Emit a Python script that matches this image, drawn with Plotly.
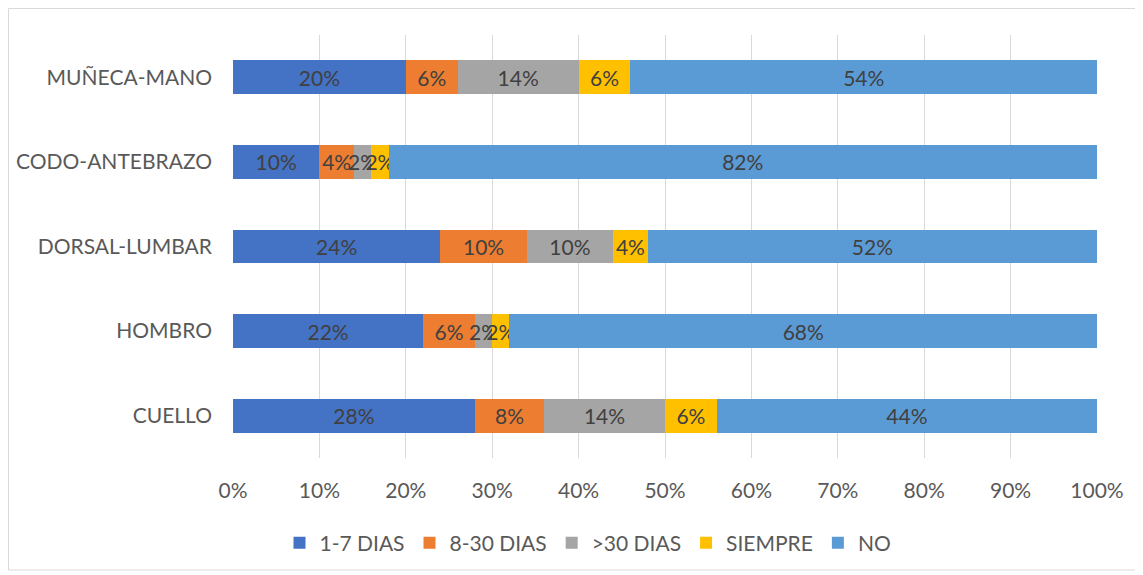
import plotly.graph_objects as go

# Data
categories = ["CUELLO", "HOMBRO", "DORSAL-LUMBAR", "CODO-ANTEBRAZO", "MUÑECA-MANO"]
series_names = ["1-7 DIAS", "8-30 DIAS", ">30 DIAS", "SIEMPRE", "NO"]
dias_1_7 = [28, 22, 24, 10, 20]
dias_8_30 = [8, 6, 10, 4, 6]
dias_30_mas = [14, 2, 10, 2, 14]
siempre = [6, 2, 4, 2, 6]
no = [44, 68, 52, 82, 54]
x_ticks = [0, 10, 20, 30, 40, 50, 60, 70, 80, 90, 100]

COLORS = ["#4472C4", "#ED7D31", "#A5A5A5", "#FFC000", "#5B9BD5"]
FONT = "Lato, 'Open Sans', sans-serif"
# page body adds an 8px offset, so the figure is sized to fit the window
W, H = 1135, 567
L, R, T, B = 225, 46, 27, 117
FS = 21

fig = go.Figure()
for name, vals, color in zip(series_names, [dias_1_7, dias_8_30, dias_30_mas, siempre, no], COLORS):
    fig.add_trace(go.Bar(
        y=categories,
        x=vals,
        name=name,
        orientation="h",
        marker={"color": color, "line": {"width": 0}},
        text=[f"{v}%" for v in vals],
        textposition="inside",
        insidetextanchor="middle",
        textangle=0,
        constraintext="none",
        cliponaxis=False,
        textfont={"color": "#404040", "size": FS, "family": FONT},
    ))

pw, ph = W - L - R, H - T - B
fig.add_shape(
    type="rect", xref="paper", yref="paper",
    x0=(0.5 - L) / pw, x1=(1129 - L) / pw,
    y0=(H - B - 562) / ph, y1=(H - B - 0.5) / ph,
    line={"color": "#D9D9D9", "width": 1},
)

fig.update_layout(
    width=W, height=H,
    barmode="stack",
    bargap=0.6,
    paper_bgcolor="white",
    plot_bgcolor="white",
    margin={"l": L, "r": R, "t": T, "b": B, "autoexpand": False},
    font={"family": FONT, "color": "#595959", "size": FS},
    xaxis={
        "range": [0, 100],
        "tickvals": x_ticks,
        "ticktext": [f"{t}%" for t in x_ticks],
        "showgrid": True,
        "gridcolor": "#D9D9D9",
        "gridwidth": 1,
        "zeroline": False,
        "showline": False,
        "ticks": "",
        "automargin": False,
        "ticklabelstandoff": 18,
        "tickfont": {"size": FS, "color": "#595959"},
    },
    yaxis={
        "showgrid": False,
        "zeroline": False,
        "ticks": "",
        "automargin": False,
        "ticklabelstandoff": 20,
        "tickfont": {"size": FS, "color": "#595959"},
    },
    legend={
        "orientation": "h",
        "x": (580 - L) / pw, "xanchor": "center",
        "y": (H - B - 535) / ph, "yanchor": "middle",
        "font": {"size": FS, "color": "#595959"},
        "traceorder": "normal",
        "itemwidth": 30,
    },
)

fig.write_html("out.html")
